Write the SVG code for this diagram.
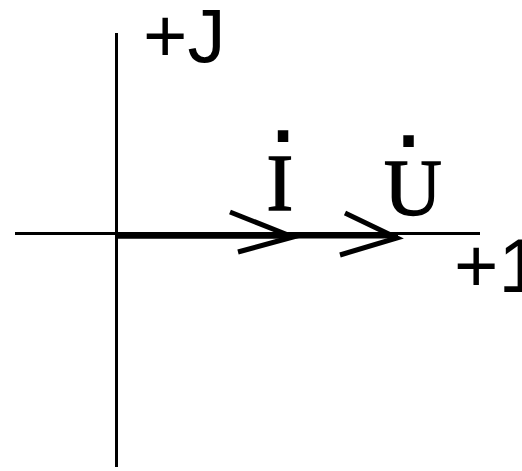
<svg xmlns="http://www.w3.org/2000/svg" width="522" height="471" viewBox="0 0 522 471">
<style>
.ax{stroke:#000;stroke-width:3;fill:none}
.vec{stroke:#000;stroke-width:6;fill:none}
.head{stroke:#000;stroke-width:5;fill:none;stroke-linecap:butt;stroke-linejoin:miter}
.sans{font-family:"Liberation Sans",Arial,sans-serif;font-size:76px;fill:#000}
.serif{font-family:"Liberation Serif","Times New Roman",serif;font-size:80px;fill:#000;stroke:#000;stroke-width:1.5}
.dot{font-family:"Liberation Sans",Arial,sans-serif;font-size:110px;stroke:none;text-anchor:middle}
</style>
<rect width="522" height="471" fill="#fff"/>
<g id="connectors">
<line class="ax" x1="116.5" y1="33" x2="116.5" y2="467"/>
<line class="ax" x1="15" y1="233.5" x2="480" y2="233.5"/>
<line class="vec" x1="117" y1="235.5" x2="293" y2="235.5"/>
<polyline class="head" points="230,212 293,237 238,252"/>
<line class="vec" x1="117" y1="235.5" x2="398" y2="235.5"/>
<polyline class="head" points="345,213 397,238 340,255"/>
</g>
<g id="label-j"><text class="sans" x="143" y="62">+J</text></g>
<g id="label-1"><text class="sans" x="454" y="292">+1</text></g>
<g id="label-i"><text class="serif"><tspan x="266.5" y="210">I</tspan><tspan class="dot" x="283" y="166">·</tspan></text></g>
<g id="label-u"><text class="serif"><tspan x="384" y="215">U</tspan><tspan class="dot" x="408.5" y="171">·</tspan></text></g>
</svg>
